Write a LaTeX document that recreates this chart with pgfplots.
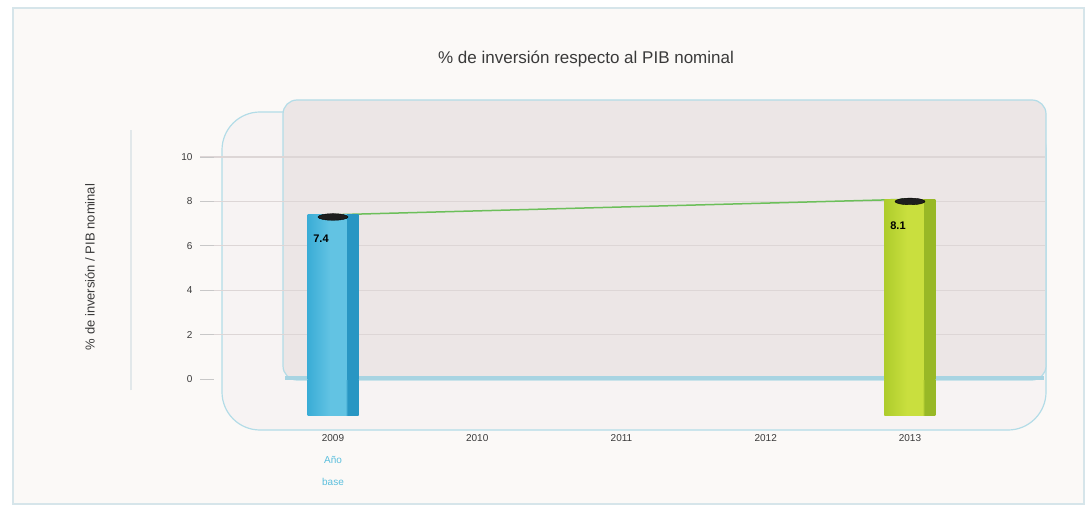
\documentclass[border=0pt]{standalone}
\usepackage{fontspec}
\setmainfont{Liberation Sans}
\usepackage{pgfplots}
\pgfplotsset{compat=1.18}
\definecolor{frameb}{HTML}{D6E5EA}
\definecolor{bgin}{HTML}{FBF9F7}
\definecolor{linec}{HTML}{E2E8EA}
\definecolor{panelb}{HTML}{B3DCE7}
\definecolor{floorc}{HTML}{F7F3F3}
\definecolor{wallc}{HTML}{ECE6E6}
\definecolor{floorb}{HTML}{A8D4E2}
\definecolor{gridc}{HTML}{DDD6D6}
\definecolor{tickc}{HTML}{C8C8C8}
\definecolor{textc}{HTML}{3A3A3A}
\definecolor{anoc}{HTML}{5BBFDD}
\definecolor{linegreen}{HTML}{6CBF5A}
\definecolor{capc}{HTML}{1E1E1E}
\definecolor{b1}{HTML}{3AACD6}
\definecolor{b2}{HTML}{62C3E3}
\definecolor{b3}{HTML}{2896C3}
\definecolor{g1}{HTML}{AECC2C}
\definecolor{g2}{HTML}{C9DF3E}
\definecolor{g3}{HTML}{98B826}
\pgfdeclarehorizontalshading{bluebar}{100bp}{color(0bp)=(b1); color(25bp)=(b1); color(47bp)=(b2); color(63bp)=(b2); color(63.5bp)=(b3); color(75bp)=(b3); color(100bp)=(b3)}
\pgfdeclarehorizontalshading{greenbar}{100bp}{color(0bp)=(g1); color(25bp)=(g1); color(47bp)=(g2); color(63bp)=(g2); color(63.5bp)=(g3); color(75bp)=(g3); color(100bp)=(g3)}
\begin{document}
\begin{tikzpicture}[x=1pt,y=1pt]
\useasboundingbox (0,0) rectangle (1091,509);
\fill[white] (0,0) rectangle (1091,509);
\draw[frameb, line width=2pt, fill=bgin] (13,5) rectangle (1084,501);
\draw[linec, line width=1.5pt] (131,119) -- (131,379);
\draw[panelb, line width=1.2pt, fill=floorc, rounded corners=38pt] (222,79) rectangle (1046,397);
\draw[panelb, line width=1.2pt, fill=wallc, rounded corners=14pt] (283,129) rectangle (1046,409);
\draw[floorb, line width=4pt] (285,131) -- (1044,131);
\node[font=\fontsize{17}{20}\selectfont, text=textc] at (586,450) {\% de inversión respecto al PIB nominal};
\node[rotate=90, font=\fontsize{13}{15}\selectfont, text=textc] at (90,242) {\% de inversión / PIB nominal};
\begin{axis}[
  at={(200pt,94pt)}, anchor=south west, scale only axis,
  width=845pt, height=315pt,
  xmin=2008.078, xmax=2013.936, ymin=-1.62, ymax=12.57,
  axis line style={draw=none},
  ytick={2,4,6,8,10}, extra y ticks={0},
  extra y tick style={grid=none},
  ymajorgrids, grid style={gridc, line width=1.2pt},
  ytick pos=left, tick align=inside,
  major tick length=14pt,
  ytick style={tickc, line width=1pt},
  xtick style={draw=none},
  xtick={2009,2010,2011,2012,2013},
  xticklabels={{2009\\[10pt]\textcolor{anoc}{Año}\\[10pt]\textcolor{anoc}{base}},2010,2011,2012,2013},
  xticklabel style={align=center, yshift=-16pt, font=\fontsize{10}{12}\selectfont, text=textc},
  yticklabel style={font=\fontsize{10}{12}\selectfont, text=textc, xshift=-4pt},
  /pgf/number format/assume math mode=true,
  clip=false,
]
\addplot[linegreen, line width=1.5pt, forget plot] coordinates {(2009,7.4) (2013,8.1)};
% bars: part below zero (base of the 3D column)
\addplot[ybar, bar width=51pt, bar shift=0pt, draw=none, shading=bluebar, forget plot] coordinates {(2009,-1.62)};
\addplot[ybar, bar width=51pt, bar shift=0pt, draw=none, shading=greenbar, forget plot] coordinates {(2013,-1.62)};
% bars: values
\addplot[ybar, bar width=51pt, bar shift=0pt, draw=none, shading=bluebar,
  nodes near coords, point meta=y,
  every node near coord/.append style={anchor=center, yshift=-24pt, xshift=-12pt, font=\bfseries\fontsize{11}{12}\selectfont, text=black}] coordinates {(2009,7.4)};
\addplot[ybar, bar width=51pt, bar shift=0pt, draw=none, shading=greenbar,
  nodes near coords, point meta=y,
  every node near coord/.append style={anchor=center, yshift=-26pt, xshift=-12pt, font=\bfseries\fontsize{11}{12}\selectfont, text=black}] coordinates {(2013,8.1)};
% caps
\addplot[only marks, mark=*, mark size=15pt, mark options={yscale=0.22, fill=capc, draw=none}] coordinates {(2009,7.3) (2013,8.0)};
\end{axis}
\end{tikzpicture}
\end{document}
